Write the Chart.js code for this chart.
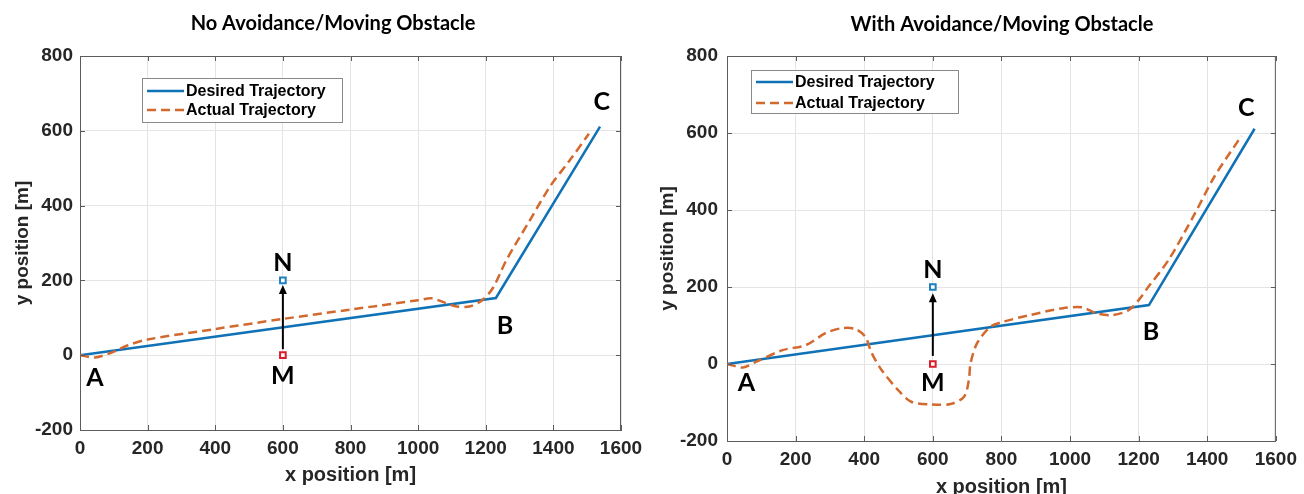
<!DOCTYPE html>
<html>
<head>
<meta charset="utf-8">
<script src="https://cdn.jsdelivr.net/npm/chart.js@4.4.1/dist/chart.umd.min.js"></script>
<style>
html, body { margin: 0; padding: 0; background: #fff; overflow: hidden; }
#wrap { position: relative; width: 1304px; height: 494px; overflow: hidden; }
canvas { position: absolute; top: 0; }
</style>
</head>
<body>
<div id="wrap">
  <canvas id="leftChart" width="650" height="494" style="left:0"></canvas>
  <canvas id="rightChart" width="654" height="512" style="left:650px"></canvas>
</div>
<script>
// desired path A -> B -> C
var desiredX = [0, 1230, 1538];
var desiredY = [0, 153, 611];

// actual path, no avoidance
var actualLeftX = [0, 45, 90, 140, 200, 400, 600, 800, 1000, 1040, 1080, 1115, 1155, 1192, 1222, 1262, 1330, 1390, 1450, 1505];
var actualLeftY = [0, -6, 6, 26, 42, 70, 97, 122, 147, 152, 140, 130, 131, 149, 181, 256, 360, 451, 523, 592];

// actual path, with avoidance
var actualRightX = [0, 47, 86, 162, 230, 287, 335, 374, 403, 422, 451, 499, 537, 595, 652, 691, 705, 710, 729, 768, 806, 883, 979, 1037, 1075, 1123, 1171, 1200, 1229, 1287, 1364, 1421, 1488, 1500];
var actualRightY = [0, -9, 6, 36, 49, 80, 93, 91, 71, 28, -16, -68, -98, -105, -104, -85, -42, 2, 54, 97, 110, 127, 145, 147, 132, 127, 140, 166, 201, 270, 391, 487, 577, 592];

// moving obstacle start M and end N
var obstacleX = [600, 600];
var obstacleY = [0, 200];

// point names and where they sit
var pointNames = ['A', 'B', 'C', 'M', 'N'];
var leftNameX = [44, 1257, 1543, 600, 600];
var leftNameY = [-60, 78, 678, -55, 247];
var rightNameX = [57, 1236, 1514, 600, 600];
var rightNameY = [-50, 84, 664, -50, 244];

var seriesNames = ['Desired Trajectory', 'Actual Trajectory'];
var xTicks = [0, 200, 400, 600, 800, 1000, 1200, 1400, 1600];
var yTicks = [-200, 0, 200, 400, 600, 800];

var BLUE = '#0f72b6';
var ORANGE = '#d2692f';
var AXIS = '#5c5c5c';

function toPoints(xs, ys) {
  var pts = [];
  for (var i = 0; i < xs.length; i++) pts.push({x: xs[i], y: ys[i]});
  return pts;
}

function overlayPlugin(cfg) {
  return {
    id: 'overlay',
    afterDatasetsDraw: function(chart) {
      var ctx = chart.ctx;
      var a = chart.chartArea;
      var sx = chart.scales.x, sy = chart.scales.y;
      ctx.save();

      // box top/right edges and inward ticks
      ctx.strokeStyle = AXIS;
      ctx.lineWidth = 1;
      ctx.beginPath();
      ctx.moveTo(a.left, a.top + 0.5); ctx.lineTo(a.right, a.top + 0.5);
      ctx.moveTo(a.right - 0.5, a.top); ctx.lineTo(a.right - 0.5, a.bottom);
      xTicks.forEach(function(v) {
        var px = Math.round(sx.getPixelForValue(v)) + 0.5;
        ctx.moveTo(px, a.bottom); ctx.lineTo(px, a.bottom - 5);
        ctx.moveTo(px, a.top); ctx.lineTo(px, a.top + 5);
      });
      yTicks.forEach(function(v) {
        var py = Math.round(sy.getPixelForValue(v)) + 0.5;
        ctx.moveTo(a.left, py); ctx.lineTo(a.left + 5, py);
        ctx.moveTo(a.right, py); ctx.lineTo(a.right - 5, py);
      });
      ctx.stroke();

      // arrow M -> N
      var ax = sx.getPixelForValue(cfg.arrow[0]);
      var ay0 = sy.getPixelForValue(cfg.arrow[1]);
      var ay1 = sy.getPixelForValue(cfg.arrow[2]);
      ctx.strokeStyle = '#000';
      ctx.fillStyle = '#000';
      ctx.lineWidth = 2;
      ctx.beginPath();
      ctx.moveTo(ax, ay0); ctx.lineTo(ax, ay1 + 7);
      ctx.stroke();
      ctx.beginPath();
      ctx.moveTo(ax, ay1); ctx.lineTo(ax - 4, ay1 + 9); ctx.lineTo(ax + 4, ay1 + 9);
      ctx.closePath();
      ctx.fill();

      // point names
      ctx.font = 'bold 25px Lato';
      ctx.textAlign = 'center';
      ctx.textBaseline = 'middle';
      for (var i = 0; i < pointNames.length; i++) {
        ctx.fillText(pointNames[i], sx.getPixelForValue(cfg.nameX[i]), sy.getPixelForValue(cfg.nameY[i]));
      }

      // legend box
      var L = cfg.legend;
      ctx.fillStyle = '#fff';
      ctx.fillRect(L.x, L.y, L.w, L.h);
      ctx.strokeStyle = '#8a8a8a';
      ctx.lineWidth = 1;
      ctx.strokeRect(L.x + 0.5, L.y + 0.5, L.w, L.h);
      ctx.font = 'bold 16px "Liberation Sans"';
      ctx.textAlign = 'left';
      for (var j = 0; j < 2; j++) {
        var ds = chart.data.datasets[j];
        var ry = L.y + L.rows[j];
        ctx.strokeStyle = ds.borderColor;
        ctx.lineWidth = ds.borderWidth;
        ctx.setLineDash(ds.borderDash || []);
        ctx.beginPath();
        ctx.moveTo(L.x + 5, ry); ctx.lineTo(L.x + 42, ry);
        ctx.stroke();
        ctx.setLineDash([]);
        ctx.fillStyle = '#000';
        ctx.fillText(ds.label, L.x + 44, ry + 1);
      }

      // title
      ctx.font = 'bold 20px Lato';
      ctx.textAlign = 'center';
      ctx.fillStyle = '#000';
      ctx.fillText(cfg.title, cfg.titleX, cfg.titleY);
      ctx.restore();
    }
  };
}

function plainTick(v) { return String(v); }

function makeChart(id, actualX, actualY, cfg) {
  var ctx = document.getElementById(id).getContext('2d');
  return new Chart(ctx, {
    type: 'scatter',
    data: {
      datasets: [{
        label: seriesNames[0],
        data: toPoints(desiredX, desiredY),
        showLine: true,
        borderColor: BLUE,
        borderWidth: 2.5,
        pointRadius: 0,
        order: 2
      }, {
        label: seriesNames[1],
        data: toPoints(actualX, actualY),
        showLine: true,
        borderColor: ORANGE,
        borderWidth: 2.5,
        borderDash: [9, 5],
        tension: 0.3,
        pointRadius: 0,
        order: 1
      }, {
        label: 'M',
        data: toPoints([obstacleX[0]], [obstacleY[0]]),
        pointStyle: 'rect',
        pointRadius: 4,
        borderWidth: 2,
        borderColor: '#d91e2a',
        backgroundColor: '#fff',
        order: 0
      }, {
        label: 'N',
        data: toPoints([obstacleX[1]], [obstacleY[1]]),
        pointStyle: 'rect',
        pointRadius: 4,
        borderWidth: 2,
        borderColor: '#1f7fc0',
        backgroundColor: '#fff',
        order: 0
      }]
    },
    options: {
      responsive: false,
      animation: false,
      layout: { padding: cfg.padding },
      plugins: {
        legend: { display: false },
        tooltip: { enabled: false }
      },
      scales: {
        x: {
          type: 'linear',
          min: 0, max: 1600,
          afterFit: function(s) { s.height = cfg.xHeight; },
          afterBuildTicks: function(s) { s.ticks = xTicks.map(function(v) { return {value: v}; }); },
          grid: { color: '#e4e4e4', drawTicks: false },
          border: { color: AXIS, width: 1 },
          ticks: { color: '#262626', padding: 7, callback: plainTick, font: { family: 'Liberation Sans', size: 19, weight: 'bold' } },
          title: { display: true, text: 'x position [m]', color: '#262626', padding: { bottom: cfg.xTitlePad }, font: { family: 'Liberation Sans', size: 20, weight: 'bold' } }
        },
        y: {
          type: 'linear',
          min: -200, max: 800,
          afterFit: function(s) { s.width = cfg.yWidth; },
          afterBuildTicks: function(s) { s.ticks = yTicks.map(function(v) { return {value: v}; }); },
          grid: { color: '#e4e4e4', drawTicks: false },
          border: { color: AXIS, width: 1 },
          ticks: { color: '#262626', padding: cfg.yTickPad, callback: plainTick, font: { family: 'Liberation Sans', size: 19, weight: 'bold' } },
          title: { display: true, text: 'y position [m]', color: '#262626', padding: { top: cfg.yTitlePad }, font: { family: 'Liberation Sans', size: 19, weight: 'bold' } }
        }
      }
    },
    plugins: [overlayPlugin(cfg)]
  });
}

makeChart('leftChart', actualLeftX, actualLeftY, {
  padding: { left: 0, right: 29, top: 56, bottom: 0 },
  xHeight: 64, yWidth: 80, yTickPad: 7,
  xTitlePad: 7, yTitlePad: 11,
  arrow: [600, 16, 188],
  nameX: leftNameX, nameY: leftNameY,
  legend: { x: 142, y: 78, w: 200, h: 44, rows: [13, 32] },
  title: 'No Avoidance/Moving Obstacle', titleX: 333, titleY: 24
});

makeChart('rightChart', actualRightX, actualRightY, {
  padding: { left: 0, right: 22, top: 56, bottom: 0 },
  xHeight: 71, yWidth: 77, yTickPad: 9,
  xTitlePad: 13, yTitlePad: 6,
  arrow: [600, 21, 184],
  nameX: rightNameX, nameY: rightNameY,
  legend: { x: 101, y: 70, w: 207, h: 43, rows: [12, 33] },
  title: 'With Avoidance/Moving Obstacle', titleX: 352, titleY: 25
});
</script>
</body>
</html>
